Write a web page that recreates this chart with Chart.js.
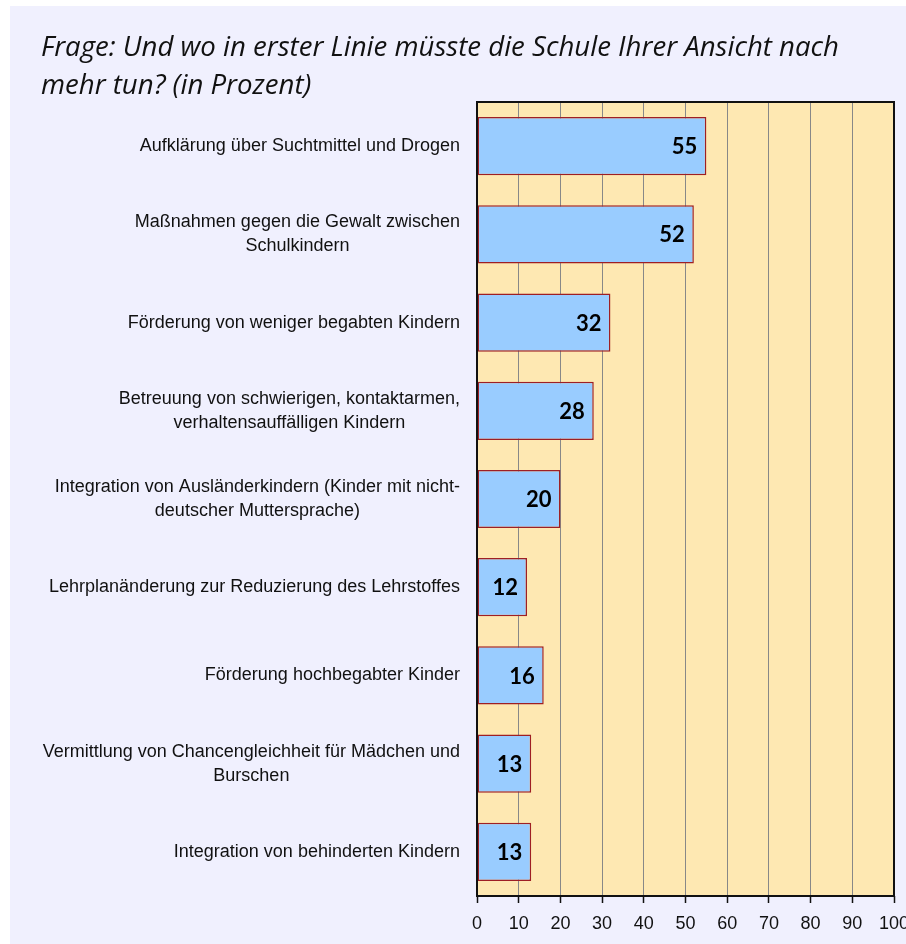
<!DOCTYPE html>
<html lang="de">
<head>
<meta charset="utf-8">
<title>Frage: Und wo in erster Linie müsste die Schule mehr tun?</title>
<script src="https://cdn.jsdelivr.net/npm/chart.js@4.4.1/dist/chart.umd.min.js"></script>
<style>
  html, body { margin: 0; padding: 0; background: #fff; overflow: hidden; }
  #wrap { width: 906px; height: 944px; position: relative; }
</style>
</head>
<body>
<div id="wrap"><canvas id="myChart"></canvas></div>
<script>
// Daten
const categories = [
  ['Aufklärung über Suchtmittel und Drogen'],
  ['Maßnahmen gegen die Gewalt zwischen', 'Schulkindern'],
  ['Förderung von weniger begabten Kindern'],
  ['Betreuung von schwierigen, kontaktarmen,', 'verhaltensauffälligen Kindern'],
  ['Integration von Ausländerkindern (Kinder mit nicht-', 'deutscher Muttersprache)'],
  ['Lehrplanänderung zur Reduzierung des Lehrstoffes'],
  ['Förderung hochbegabter Kinder'],
  ['Vermittlung von Chancengleichheit für Mädchen und', 'Burschen'],
  ['Integration von behinderten Kindern']
];
const values = [55, 52, 32, 28, 20, 12, 16, 13, 13];
const xTicks = [0, 10, 20, 30, 40, 50, 60, 70, 80, 90, 100];
const titleLines = [
  'Frage: Und wo in erster Linie müsste die Schule Ihrer Ansicht nach',
  'mehr tun? (in Prozent)'
];

/**
 * Hintergrund, Plotfläche, Titel, Beschriftungen
 */
const decorPlugin = {
  id: 'decor',
  beforeDraw(chart) {
    const c = chart.ctx;
    const a = chart.chartArea;
    c.save();
    c.fillStyle = '#ffffff';
    c.fillRect(0, 0, chart.width, chart.height);
    c.fillStyle = '#F0F0FE';
    c.fillRect(10, 6, chart.width - 10, chart.height - 6);
    c.fillStyle = '#FEE8B2';
    c.fillRect(a.left, a.top, a.right - a.left, a.bottom - a.top);

    // Titel: Schriftgröße so, dass die erste Zeile ~797px breit ist
    c.font = 'italic 26px "Open Sans"';
    let size = 26 * 797 / c.measureText(titleLines[0]).width;
    size = Math.min(28, Math.max(20, size));
    c.font = 'italic ' + size.toFixed(1) + 'px "Open Sans"';
    c.fillStyle = '#111';
    c.textAlign = 'left';
    c.textBaseline = 'alphabetic';
    titleLines.forEach((line, i) => c.fillText(line, 41, 56 + i * 38));
    c.restore();
  },
  afterDatasetsDraw(chart) {
    const c = chart.ctx;
    const a = chart.chartArea;
    const yScale = chart.scales.y;
    c.save();

    // Rahmen der Plotfläche
    c.strokeStyle = '#111';
    c.lineWidth = 2;
    c.strokeRect(a.left, a.top, a.right - a.left, a.bottom - a.top);

    // Kategorien links, Zeilen zentriert, Block rechtsbündig
    c.font = '18px "Liberation Sans"';
    c.fillStyle = '#111';
    c.textAlign = 'center';
    c.textBaseline = 'middle';
    const lineH = 24;
    categories.forEach((lines, i) => {
      const y = yScale.getPixelForValue(i);
      const w = Math.max(...lines.map(l => c.measureText(l).width));
      const cx = 460 - w / 2;
      lines.forEach((l, j) => {
        c.fillText(l, cx, y + (j - (lines.length - 1) / 2) * lineH);
      });
    });

    // Werte in den Balken
    c.font = 'bold 22px Lato';
    c.textAlign = 'right';
    c.fillStyle = '#000';
    chart.getDatasetMeta(0).data.forEach((bar, i) => {
      c.fillText(String(values[i]), bar.x - 9, bar.y + 1);
    });
    c.restore();
  }
};

const ctx = document.getElementById('myChart');
const chart = new Chart(ctx, {
  type: 'bar',
  data: {
    labels: categories,
    datasets: [{
      data: values,
      backgroundColor: '#99CCFF',
      borderColor: '#9E1F24',
      borderWidth: 1.5,
      borderSkipped: false,
      categoryPercentage: 1,
      barPercentage: 0.66
    }]
  },
  options: {
    indexAxis: 'y',
    responsive: true,
    maintainAspectRatio: false,
    animation: false,
    layout: { padding: { top: 102, right: 12, left: 0, bottom: 0 } },
    plugins: {
      legend: { display: false },
      tooltip: { enabled: false },
      title: { display: false }
    },
    scales: {
      x: {
        min: 0,
        max: 100,
        afterBuildTicks(scale) {
          scale.ticks = xTicks.map(v => ({ value: v }));
        },
        afterFit(scale) {
          scale.height = 48;
          scale.paddingLeft = 0;
          scale.paddingRight = 0;
        },
        border: { display: false },
        grid: {
          color: '#888888',
          lineWidth: 1,
          drawTicks: true,
          tickLength: 7,
          tickColor: '#111',
          tickWidth: 1.5
        },
        ticks: {
          padding: 10,
          color: '#111',
          font: { family: '"Liberation Sans"', size: 18 },
          maxRotation: 0,
          autoSkip: false
        }
      },
      y: {
        offset: true,
        afterFit(scale) {
          scale.width = 477;
        },
        border: { display: false },
        grid: { display: false },
        ticks: { display: false }
      }
    }
  },
  plugins: [decorPlugin]
});
</script>
</body>
</html>
